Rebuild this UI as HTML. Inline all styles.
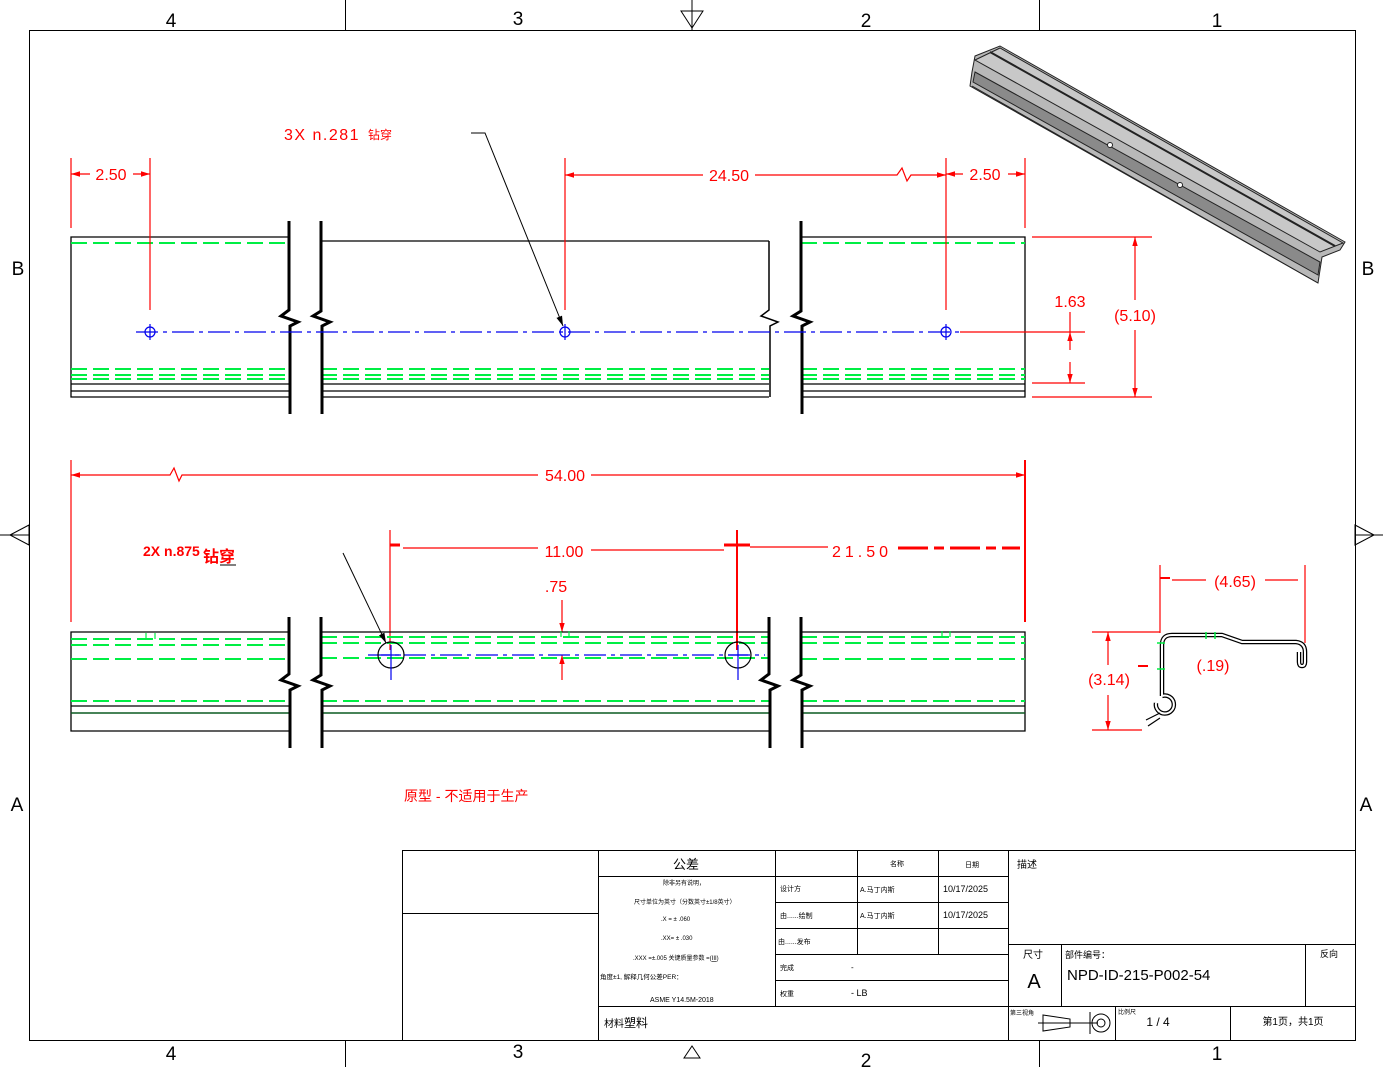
<!DOCTYPE html>
<html><head><meta charset="utf-8"><style>
html,body{margin:0;padding:0;background:#fff;}
svg{display:block;}
text{font-family:"Liberation Sans","Noto Sans CJK SC",sans-serif;}
</style></head><body>
<svg width="1383" height="1067" viewBox="0 0 1383 1067" xmlns="http://www.w3.org/2000/svg">
<defs>
<marker id="ar" viewBox="0 0 10 10" refX="10" refY="5" markerWidth="9" markerHeight="9" orient="auto-start-reverse" markerUnits="userSpaceOnUse"><path d="M0,2 L10,5 L0,8 z" fill="red"/></marker>
<marker id="ak" viewBox="0 0 10 10" refX="10" refY="5" markerWidth="10" markerHeight="10" orient="auto" markerUnits="userSpaceOnUse"><path d="M0,2 L10,5 L0,8 z" fill="#000"/></marker>
</defs>
<!-- frame -->
<rect x="29.5" y="30.5" width="1326" height="1010" fill="none" stroke="#000" stroke-width="1"/>
<g stroke="#000" stroke-width="1">
<line x1="345.5" y1="0" x2="345.5" y2="30"/><line x1="1039.5" y1="0" x2="1039.5" y2="30"/>
<line x1="345.5" y1="1040" x2="345.5" y2="1067"/><line x1="1039.5" y1="1040" x2="1039.5" y2="1067"/>
</g>
<g fill="none" stroke="#000"><path d="M681,11 L703,11 L692,28 z"/><line x1="692" y1="0" x2="692" y2="30"/>
<path d="M684,1058 L700,1058 L692,1046 z"/>
<path d="M10,535 L29,525 L29,545 z"/><line x1="0" y1="535" x2="29" y2="535"/>
<path d="M1374,535 L1355,525 L1355,545 z"/><line x1="1355" y1="535" x2="1383" y2="535"/></g>
<g font-size="19" fill="#000" text-anchor="middle">
<text x="171" y="27">4</text><text x="518" y="25">3</text><text x="866" y="27">2</text><text x="1217" y="27">1</text>
<text x="171" y="1060">4</text><text x="518" y="1058">3</text><text x="866" y="1067">2</text><text x="1217" y="1060">1</text>
<text x="18" y="275">B</text><text x="1368" y="275">B</text><text x="17" y="811">A</text><text x="1366" y="811">A</text>
</g>

<!-- TOP VIEW -->
<g stroke="#000" stroke-width="1.3" fill="none">
<polyline points="289,237 71,237 71,397 289,397"/>
<line x1="71" y1="384" x2="289" y2="384"/><line x1="71" y1="391" x2="289" y2="391"/>
<polyline points="769,241 321,241"/>
<line x1="321" y1="384" x2="769" y2="384"/><line x1="321" y1="391" x2="769" y2="391"/><line x1="321" y1="397" x2="769" y2="397"/>
<polyline points="801,237 1025,237 1025,397 801,397"/>
<line x1="801" y1="384" x2="1025" y2="384"/><line x1="801" y1="391" x2="1025" y2="391"/>
</g>
<g stroke="#00ee44" stroke-width="2" stroke-dasharray="16 6" fill="none">
<line x1="71" y1="243" x2="289" y2="243"/><line x1="71" y1="369" x2="289" y2="369"/><line x1="71" y1="375" x2="289" y2="375"/><line x1="71" y1="379" x2="289" y2="379"/>
<line x1="321" y1="369" x2="769" y2="369"/><line x1="321" y1="375" x2="769" y2="375"/><line x1="321" y1="379" x2="769" y2="379"/>
<line x1="801" y1="243" x2="1025" y2="243"/><line x1="801" y1="369" x2="1025" y2="369"/><line x1="801" y1="375" x2="1025" y2="375"/><line x1="801" y1="379" x2="1025" y2="379"/>
</g>
<g stroke="#000" stroke-width="3" fill="none">
<polyline points="289,221 289,310 281,316 298,322 290,326 290,414"/>
<polyline points="321,221 321,311 313,316 330,322 322,326 322,414"/>
<polyline points="769,241 769,310 761,316 778,322 770,326 770,397" stroke-width="1.5"/>
<polyline points="801,221 801,311 793,316 810,322 802,326 802,414"/>
</g>
<line x1="136" y1="332" x2="960" y2="332" stroke="#0000ee" stroke-width="1.2" stroke-dasharray="22 5 4 5"/>
<g stroke="#0000ee" fill="none" stroke-width="1.2">
<circle cx="150" cy="332" r="5"/><line x1="150" y1="324" x2="150" y2="340"/>
<circle cx="565" cy="332" r="5"/><line x1="565" y1="324" x2="565" y2="340"/>
<circle cx="946" cy="332" r="5"/><line x1="946" y1="324" x2="946" y2="340"/>
</g>
<!-- top dims -->
<g stroke="red" stroke-width="1.2" fill="none">
<line x1="71" y1="158" x2="71" y2="228"/><line x1="150" y1="158" x2="150" y2="310"/>
<line x1="565" y1="158" x2="565" y2="310"/><line x1="946" y1="158" x2="946" y2="310"/><line x1="1025" y1="158" x2="1025" y2="228"/>
<line x1="71" y1="174" x2="90" y2="174" marker-start="url(#ar)"/><line x1="133" y1="174" x2="150" y2="174" marker-end="url(#ar)"/>
<line x1="565" y1="175" x2="703" y2="175" marker-start="url(#ar)"/>
<polyline points="755,175 897,175 902,168 907,181 911,175 946,175" marker-end="url(#ar)"/>
<line x1="946" y1="174" x2="963" y2="174" marker-start="url(#ar)"/><line x1="1008" y1="174" x2="1025" y2="174" marker-end="url(#ar)"/>
<line x1="1032" y1="237" x2="1152" y2="237"/><line x1="1032" y1="397" x2="1152" y2="397"/>
<line x1="960" y1="332" x2="1085" y2="332"/><line x1="1032" y1="383" x2="1085" y2="383"/>
<line x1="1135" y1="300" x2="1135" y2="237" marker-end="url(#ar)"/><line x1="1135" y1="330" x2="1135" y2="397" marker-end="url(#ar)"/>
<line x1="1070" y1="312" x2="1070" y2="332"/><line x1="1070" y1="332" x2="1070" y2="350" marker-start="url(#ar)"/>
<line x1="1070" y1="362" x2="1070" y2="383" marker-end="url(#ar)"/>
</g>
<g fill="red" font-size="16" text-anchor="middle">
<text x="111" y="180">2.50</text><text x="729" y="181">24.50</text><text x="985" y="180">2.50</text>
<text x="1135" y="321">(5.10)</text><text x="1070" y="307">1.63</text>
<text x="284" y="140" text-anchor="start" letter-spacing="1.5">3X n.281</text>
<text x="368" y="139" font-size="12" text-anchor="start">钻穿</text>
</g>
<polyline points="471,133 485,133 563,326" fill="none" stroke="#000" stroke-width="1" marker-end="url(#ak)"/>

<!-- 3D rail -->
<g stroke="#222" stroke-width="1">
<polygon points="975,56 1000,46 1345,242 1340,250 1322,257 1318,283 970,86 972,72" fill="#b8b8b8"/>
<polygon points="975,60 1000,48 1343,243 1320,252" fill="#c8c8c8"/>
<polygon points="975,72 1320,262 1318,275 973,82" fill="#8a8a8a"/>
<line x1="990" y1="52" x2="1335" y2="246" stroke-width="2"/>
<line x1="972" y1="86" x2="1318" y2="283"/>
<circle cx="1110" cy="145" r="2.5" fill="#fff"/><circle cx="1180" cy="185" r="2.5" fill="#fff"/>
</g>

<!-- BOTTOM VIEW dims -->
<g stroke="red" stroke-width="1.2" fill="none">
<line x1="71" y1="460" x2="71" y2="622"/><line x1="1025" y1="460" x2="1025" y2="622" stroke-width="2"/>
<polyline points="71,475 170,475 174,468 179,481 182,475 538,475" marker-start="url(#ar)"/>
<line x1="591" y1="475" x2="1025" y2="475" marker-end="url(#ar)"/>
<line x1="390" y1="530" x2="390" y2="650"/><line x1="737" y1="530" x2="737" y2="650" stroke-width="2"/>
<line x1="390" y1="545" x2="400" y2="545" stroke-width="3"/>
<line x1="403" y1="548" x2="538" y2="548"/><line x1="591" y1="550" x2="724" y2="550"/>
<line x1="724" y1="545" x2="750" y2="545" stroke-width="3"/>
<line x1="750" y1="547" x2="828" y2="547"/>
<line x1="898" y1="548" x2="1020" y2="548" stroke-width="3" stroke-dasharray="30 6 10 6"/>
<line x1="562" y1="600" x2="562" y2="632" marker-end="url(#ar)"/><line x1="562" y1="680" x2="562" y2="655" marker-end="url(#ar)"/>
</g>
<g fill="red" font-size="16" text-anchor="middle">
<text x="565" y="481">54.00</text><text x="564" y="557">11.00</text>
<text x="862" y="557" letter-spacing="4">21.50</text><text x="556" y="592">.75</text>
<text x="143" y="556" text-anchor="start" font-size="14" font-weight="bold">2X n.875</text>
<text x="203" y="562" text-anchor="start" font-size="16" font-weight="bold">钻穿</text>
<text x="404" y="801" text-anchor="start" font-size="14">原型 - 不适用于生产</text>
</g>
<line x1="220" y1="565" x2="236" y2="565" stroke="#000"/>
<g stroke="#000" stroke-width="1.3" fill="none">
<polyline points="289,632 71,632 71,731 289,731"/><line x1="71" y1="706" x2="289" y2="706"/>
<polyline points="321,632 769,632"/><line x1="321" y1="706" x2="769" y2="706"/><line x1="321" y1="731" x2="769" y2="731"/>
<polyline points="801,632 1025,632 1025,731 801,731"/><line x1="801" y1="706" x2="1025" y2="706"/>
</g>
<g stroke="#0a5a20" stroke-width="1.5"><line x1="71" y1="713" x2="289" y2="713"/><line x1="321" y1="713" x2="769" y2="713"/><line x1="801" y1="713" x2="1025" y2="713"/></g>
<g stroke="#00ee44" stroke-width="2" stroke-dasharray="16 6" fill="none">
<line x1="71" y1="639" x2="289" y2="639"/><line x1="71" y1="645" x2="289" y2="645"/><line x1="71" y1="659" x2="289" y2="659"/><line x1="71" y1="701" x2="289" y2="701"/>
<line x1="321" y1="637" x2="769" y2="637"/><line x1="321" y1="643" x2="769" y2="643"/><line x1="321" y1="658" x2="769" y2="658"/><line x1="321" y1="701" x2="769" y2="701"/>
<line x1="801" y1="637" x2="1025" y2="637"/><line x1="801" y1="643" x2="1025" y2="643"/><line x1="801" y1="659" x2="1025" y2="659"/><line x1="801" y1="701" x2="1025" y2="701"/>
</g>
<g stroke="#00ee44" stroke-width="1.2" fill="none"><path d="M146,639 v-6 M155,639 v-6 M561,637 v-6 M569,637 v-6 M942,637 v-6 M950,637 v-6"/></g>
<g stroke="#000" stroke-width="3" fill="none">
<polyline points="289,617 289,674 281,680 298,686 290,690 290,748"/>
<polyline points="321,617 321,675 313,680 330,686 322,690 322,748"/>
<polyline points="769,617 769,674 761,680 778,686 770,690 770,748"/>
<polyline points="801,617 801,675 793,680 810,686 802,690 802,748"/>
</g>
<line x1="368" y1="655" x2="765" y2="655" stroke="#0000ee" stroke-width="1.2" stroke-dasharray="22 5 4 5"/>
<g stroke="#000" fill="none" stroke-width="1.2"><circle cx="391" cy="655" r="13"/><circle cx="738" cy="655" r="13"/></g>
<g stroke="#0000ee" stroke-width="1.2"><path d="M391,645 v35 M381,655 h20 M738,645 v35 M728,655 h20"/></g>
<line x1="343" y1="553" x2="386" y2="643" stroke="#000" marker-end="url(#ak)"/>

<!-- SECTION -->
<g fill="none" stroke="#000" stroke-width="4.5" stroke-linejoin="round">
<path d="M1162,696 L1162,645 Q1162,635 1172,635 L1222,635 L1242,642 L1296,642 Q1305,643 1305,652 L1305,662 Q1305,666 1302,666 Q1299,666 1299,662 L1299,652"/>
<path d="M1162,696 A9,9 0 1 1 1156,703"/>
</g>
<g fill="none" stroke="#fff" stroke-width="2" stroke-linejoin="round">
<path d="M1162,696 L1162,645 Q1162,635 1172,635 L1222,635 L1242,642 L1296,642 Q1305,643 1305,652 L1305,662 Q1305,666 1302,666 Q1299,666 1299,662 L1299,652"/>
<path d="M1162,696 A9,9 0 1 1 1156,703"/>
</g>
<g stroke="#000" stroke-width="1.2"><path d="M1146,720 L1160,713 M1148,726 L1160,718"/></g>
<g stroke="#00ee44" stroke-width="1.5"><path d="M1157,643 h8 M1157,669 h8 M1206,632 v7 M1215,632 v7"/></g>
<g stroke="red" stroke-width="1.2" fill="none">
<line x1="1160" y1="565" x2="1160" y2="633"/><line x1="1305" y1="565" x2="1305" y2="643"/>
<line x1="1160" y1="578" x2="1170" y2="578" stroke-width="2"/><line x1="1172" y1="580" x2="1206" y2="580"/>
<line x1="1265" y1="580" x2="1298" y2="580"/>
<line x1="1092" y1="632" x2="1160" y2="632"/><line x1="1092" y1="730" x2="1142" y2="730"/>
<line x1="1108" y1="665" x2="1108" y2="632" marker-end="url(#ar)"/><line x1="1108" y1="695" x2="1108" y2="730" marker-end="url(#ar)"/>
<line x1="1138" y1="666" x2="1148" y2="666" stroke-width="2"/>
</g>
<g fill="red" font-size="16" text-anchor="middle">
<text x="1235" y="587">(4.65)</text><text x="1109" y="685">(3.14)</text><text x="1213" y="671">(.19)</text>
</g>

<!-- TITLE BLOCK -->
<g stroke="#000" stroke-width="1" fill="none">
<rect x="402.5" y="850.5" width="953" height="190"/>
<line x1="402" y1="913.5" x2="598" y2="913.5"/>
<line x1="598.5" y1="850" x2="598.5" y2="1040"/>
<line x1="775.5" y1="850" x2="775.5" y2="1006"/>
<line x1="857.5" y1="850" x2="857.5" y2="954"/>
<line x1="938.5" y1="850" x2="938.5" y2="954"/>
<line x1="1008.5" y1="850" x2="1008.5" y2="1040"/>
<line x1="598" y1="876.5" x2="1008" y2="876.5"/>
<line x1="775" y1="902.5" x2="1008" y2="902.5"/>
<line x1="775" y1="928.5" x2="1008" y2="928.5"/>
<line x1="775" y1="954.5" x2="1008" y2="954.5"/>
<line x1="775" y1="980.5" x2="1008" y2="980.5"/>
<line x1="598" y1="1006.5" x2="1355" y2="1006.5"/>
<line x1="1008" y1="944.5" x2="1355" y2="944.5"/>
<line x1="1061.5" y1="944" x2="1061.5" y2="1006"/>
<line x1="1305.5" y1="944" x2="1305.5" y2="1006"/>
<line x1="1115.5" y1="1006" x2="1115.5" y2="1040"/>
<line x1="1230.5" y1="1006" x2="1230.5" y2="1040"/>
<path d="M1043,1015 L1070,1019 L1070,1027 L1043,1031 z"/>
<line x1="1038" y1="1023" x2="1098" y2="1023"/><line x1="1090" y1="1012" x2="1090" y2="1034"/>
<circle cx="1101" cy="1023" r="9"/><circle cx="1101" cy="1023" r="4"/>
</g>
<g fill="#000" font-size="9">
<text x="686" y="869" font-size="13" text-anchor="middle">公差</text>
<text x="890" y="866" font-size="7">名称</text><text x="965" y="867" font-size="7">日期</text>
<text x="1017" y="868" font-size="10">描述</text>
<text x="663" y="885" font-size="6">除非另有说明，</text>
<text x="634" y="904" font-size="6">尺寸单位为英寸（分数英寸±1/8英寸）</text>
<text x="661" y="921" font-size="6">.X =    ± .060</text>
<text x="661" y="940" font-size="6">.XX=   ± .030</text>
<text x="633" y="960" font-size="6">.XXX =±.005 关键质量参数 =(<tspan text-decoration="underline">III</tspan>)</text>
<text x="600" y="979" font-size="6.5">角度±1, 解释几何公差PER：</text>
<text x="650" y="1002" font-size="7">ASME Y14.5M-2018</text>
<text x="780" y="891" font-size="7">设计方</text><text x="860" y="892" font-size="7">A.马丁内斯</text><text x="943" y="892" font-size="9">10/17/2025</text>
<text x="780" y="918" font-size="7">由......绘制</text><text x="860" y="918" font-size="7">A.马丁内斯</text><text x="943" y="918" font-size="9">10/17/2025</text>
<text x="778" y="944" font-size="7">由......发布</text>
<text x="780" y="970" font-size="7">完成</text><text x="851" y="970" font-size="8">-</text>
<text x="780" y="996" font-size="7">权重</text><text x="851" y="996" font-size="9">- LB</text>
<text x="604" y="1027" font-size="10">材料<tspan font-size="12">塑料</tspan></text>
<text x="1023" y="958" font-size="10">尺寸</text>
<text x="1034" y="988" font-size="20" text-anchor="middle">A</text>
<text x="1065" y="958" font-size="9">部件编号：</text>
<text x="1067" y="980" font-size="15">NPD-ID-215-P002-54</text>
<text x="1320" y="957" font-size="9">反向</text>
<text x="1010" y="1015" font-size="6">第三视角</text>
<text x="1118" y="1014" font-size="6">比例尺</text>
<text x="1158" y="1026" font-size="12" text-anchor="middle">1 / 4</text>
<text x="1293" y="1025" font-size="10" text-anchor="middle">第1页，共1页</text>
</g>
</svg>
</body></html>
